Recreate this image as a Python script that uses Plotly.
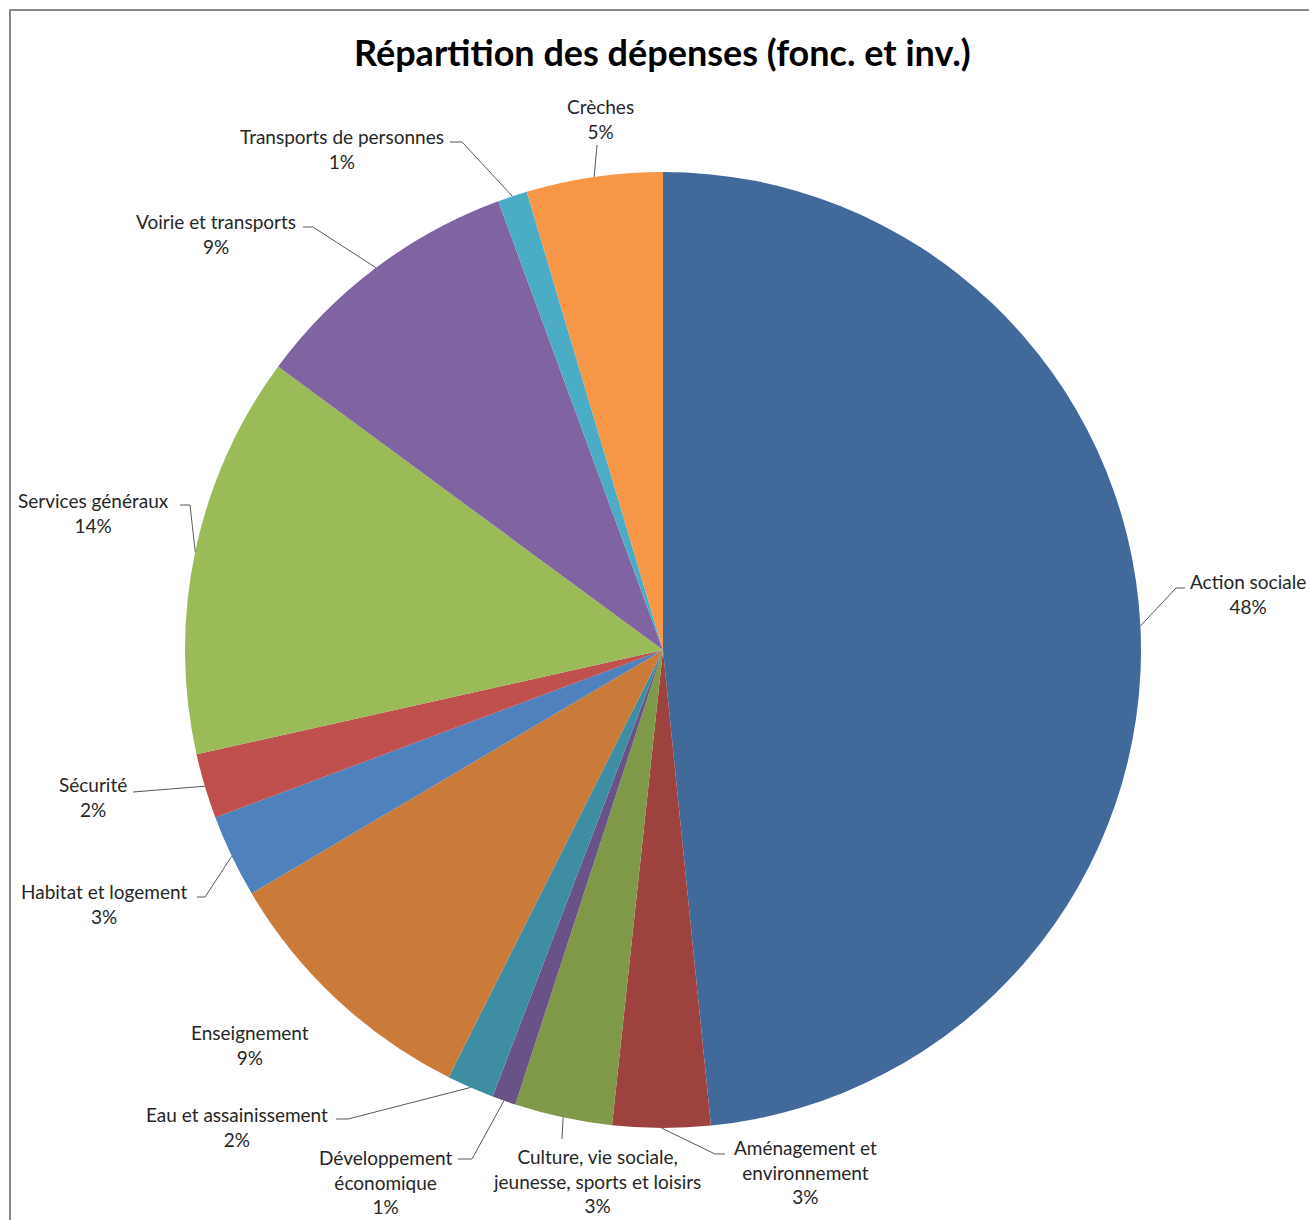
import math
import plotly.graph_objects as go

W, H = 1309, 1220

# ---- data ----
categories = [
    "Action sociale",
    "Aménagement et<br>environnement",
    "Culture, vie sociale,<br>jeunesse, sports et loisirs",
    "Développement<br>économique",
    "Eau et assainissement",
    "Enseignement",
    "Habitat et logement",
    "Sécurité",
    "Services généraux",
    "Voirie et transports",
    "Transports de personnes",
    "Crèches",
]
values = [48.4, 3.3, 3.3, 0.8, 1.6, 9.1, 2.8, 2.2, 13.6, 9.3, 1.0, 4.6]
colors = ["#416A9B", "#9D423F", "#7F9949", "#695285", "#3E8DA3", "#CB7B39",
          "#4F81BD", "#C0504D", "#9BBB59", "#8064A2", "#4BACC6", "#F79646"]

# ---- layout of labels (pixel positions: label centre, leader-line elbow/end) ----
label_centre = [(1248, 594), (805, 1172), (597, 1181), (385, 1182), (237, 1127),
                (250, 1045), (104, 904), (93, 797), (93, 513), (216, 234),
                (342, 149), (600, 119)]
leader_pts = [
    [(1176, 588), (1185, 588)],
    [(715, 1154), (725, 1154)],
    [(562, 1139)],
    [(472, 1159), (458, 1159)],
    [(348, 1119), (336, 1119)],
    None,
    [(205, 897), (197, 897)],
    [(133, 792)],
    [(190, 505), (180, 505)],
    [(313, 227), (303, 227)],
    [(462, 142), (450, 142)],
    [(597, 145)],
]

CX, CY, R = 663, 650, 478


def px(x):
    return x / W


def py(y):
    return 1 - y / H


FONT = "Lato"
TEXT_COLOR = "#262626"

fig = go.Figure(go.Pie(
    labels=categories,
    values=values,
    sort=False,
    direction="clockwise",
    rotation=0,
    marker=dict(colors=colors, line=dict(width=0)),
    textinfo="none",
    hoverinfo="label+percent",
    showlegend=False,
    domain=dict(x=[px(CX - R), px(CX + R)], y=[py(CY + R), py(CY - R)]),
))

total = sum(values)
shapes = []
annotations = []
cum = 0.0
for i, (cat, v) in enumerate(zip(categories, values)):
    mid = (cum + v / 2) / total * 2 * math.pi
    cum += v
    sx = CX + R * math.sin(mid)
    sy = CY - R * math.cos(mid)
    pct = round(v / total * 100)
    lx, ly = label_centre[i]
    annotations.append(dict(
        x=px(lx), y=py(ly), xref="paper", yref="paper",
        text=f"{cat}<br>{pct}%", showarrow=False,
        xanchor="center", yanchor="middle", align="center",
        font=dict(family=FONT, size=19, color=TEXT_COLOR),
    ))
    pts = leader_pts[i]
    if pts:
        path = f"M {px(sx)} {py(sy)}"
        for (x, y) in pts:
            path += f" L {px(x)} {py(y)}"
        shapes.append(dict(type="path", path=path, xref="paper", yref="paper",
                           line=dict(color="#595959", width=1)))

# border of chart area
shapes.append(dict(type="rect", xref="paper", yref="paper",
                   x0=px(10), y0=py(1240), x1=px(1330), y1=py(10),
                   line=dict(color="#878787", width=2)))

annotations.append(dict(
    x=px(662), y=py(52), xref="paper", yref="paper",
    text="Répartition des dépenses (fonc. et inv.)", showarrow=False,
    xanchor="center", yanchor="middle",
    font=dict(family=FONT, size=36, color="#000000", weight="bold"),
))

fig.update_layout(
    width=W, height=H,
    margin=dict(l=0, r=0, t=0, b=0),
    paper_bgcolor="white",
    plot_bgcolor="white",
    shapes=shapes,
    annotations=annotations,
)

fig.write_html("out.html")
